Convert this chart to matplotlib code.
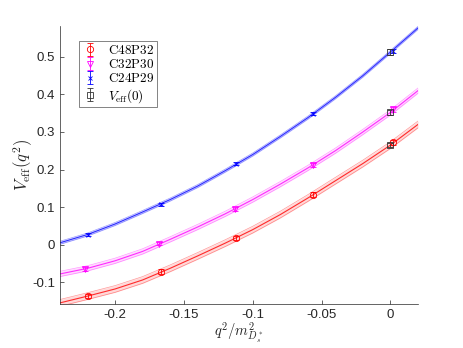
import numpy as np
import matplotlib
matplotlib.use("Agg")
import matplotlib.pyplot as plt

plt.rcParams['mathtext.fontset'] = 'cm'
plt.rcParams['font.family'] = ['Liberation Sans', 'DejaVu Sans']

# lattice points
x_c48 = [-0.220, -0.167, -0.112, -0.056, 0.002]
y_c48 = [-0.137, -0.072, 0.018, 0.133, 0.272]
e_c48 = [0.006, 0.006, 0.006, 0.006, 0.007]

x_c32 = [-0.222, -0.168, -0.113, -0.056, 0.002]
y_c32 = [-0.064, 0.003, 0.095, 0.212, 0.360]
e_c32 = [0.005, 0.005, 0.005, 0.005, 0.006]

x_c24 = [-0.220, -0.167, -0.112, -0.056, 0.002]
y_c24 = [0.027, 0.108, 0.215, 0.348, 0.515]
e_c24 = [0.004, 0.004, 0.004, 0.004, 0.006]

x_v0 = [0.0, 0.0, 0.0]
y_v0 = [0.265, 0.352, 0.513]
e_v0 = [0.006, 0.006, 0.007]

# fitted curves
q_fit = [-0.24, -0.22, -0.20, -0.18, -0.16, -0.14, -0.12, -0.10,
         -0.08, -0.06, -0.04, -0.02, 0.0, 0.02]
fit_c48 = [-0.155, -0.137, -0.118, -0.094, -0.063, -0.030, 0.004, 0.040,
           0.080, 0.124, 0.170, 0.216, 0.265, 0.320]
fit_c32 = [-0.078, -0.063, -0.043, -0.018, 0.014, 0.047, 0.082, 0.120,
           0.161, 0.204, 0.250, 0.300, 0.352, 0.410]
fit_c24 = [0.005, 0.027, 0.055, 0.087, 0.120, 0.156, 0.197, 0.240,
           0.288, 0.338, 0.392, 0.450, 0.513, 0.577]
band_c48 = 0.009
band_c32 = 0.007
band_c24 = 0.004

fig = plt.figure(figsize=(4.63, 3.48), dpi=100)
ax = fig.add_axes([60/463, 44/348, 358/463, 278/348])

for fit, band, col in [(fit_c48, band_c48, 'red'), (fit_c32, band_c32, 'magenta'),
                       (fit_c24, band_c24, 'blue')]:
    f = np.array(fit)
    ax.fill_between(q_fit, f - band, f + band, color=col, alpha=0.15, lw=0)
    ax.plot(q_fit, f - band, color=col, lw=0.5, alpha=0.4)
    ax.plot(q_fit, f + band, color=col, lw=0.5, alpha=0.4)
    ax.plot(q_fit, f, color=col, lw=0.8, alpha=0.8)

ax.errorbar(x_c48, y_c48, yerr=e_c48, fmt='o', color='red', mfc='none', ms=4.5,
            mew=0.6, elinewidth=0.6, capsize=2, label=r'$\mathrm{C48P32}$')
ax.errorbar(x_c32, y_c32, yerr=e_c32, fmt='v', color='magenta', mfc='none', ms=4.5,
            mew=0.6, elinewidth=0.6, capsize=2, label=r'$\mathrm{C32P30}$')
ax.errorbar(x_c24, y_c24, yerr=e_c24, fmt='x', color='blue', ms=3,
            mew=0.6, elinewidth=0.6, capsize=2, label=r'$\mathrm{C24P29}$')
ax.errorbar(x_v0, y_v0, yerr=e_v0, fmt='s', color='#333333', mfc='none', ms=4.5,
            mew=0.6, elinewidth=0.6, capsize=2, label=r'$V_{\rm eff}(0)$')

ax.set_xlim(-0.24, 0.02)
ax.set_ylim(-0.158, 0.582)
ax.set_xticks([-0.2, -0.15, -0.1, -0.05, 0])
ax.set_xticklabels(['-0.2', '-0.15', '-0.1', '-0.05', '0'])
ax.set_yticks([-0.1, 0, 0.1, 0.2, 0.3, 0.4, 0.5])
ax.set_yticklabels(['-0.1', '0', '0.1', '0.2', '0.3', '0.4', '0.5'])
ax.spines['top'].set_visible(False)
ax.spines['right'].set_visible(False)
for s in ['left', 'bottom']:
    ax.spines[s].set_color('#262626')
    ax.spines[s].set_linewidth(0.5)
ax.tick_params(direction='in', length=3, width=0.5, colors='#262626',
               labelsize=9.5, labelcolor='#262626')

ax.set_xlabel(r'$q^2/m^2_{D_s^*}$', fontsize=10.5, color='#262626', labelpad=0)
ax.set_ylabel(r'$V_{\rm eff}(q^2)$', fontsize=12, color='#262626', labelpad=-2)

leg = ax.legend(loc='upper left', bbox_to_anchor=(0.05, 0.95), fontsize=9.5,
                frameon=True, fancybox=False, edgecolor='#262626',
                handlelength=1.3, borderpad=0.2, labelspacing=0.1,
                handletextpad=0.7, borderaxespad=0.1)
leg.get_frame().set_linewidth(0.5)

fig.savefig('out.png', dpi=100)
